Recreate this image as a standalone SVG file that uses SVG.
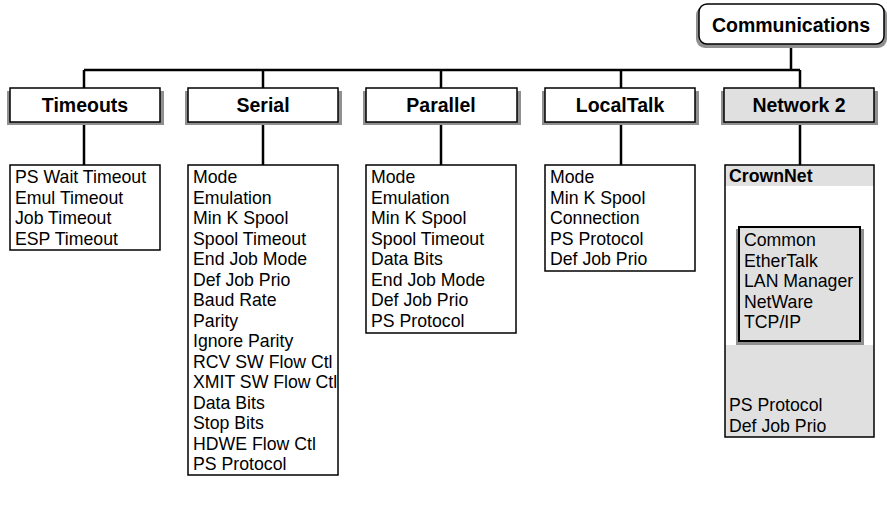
<svg xmlns="http://www.w3.org/2000/svg" width="887" height="507" viewBox="0 0 887 507">
<style>
.shadow{fill:#909090}
.box{fill:#fff;stroke:#000;stroke-width:1.5}
.gbox{fill:#e0e0e0;stroke:#000;stroke-width:1.5}
.list{fill:#fff;stroke:#000;stroke-width:1.5}
.hd{font-family:"Liberation Sans",Arial,sans-serif;font-weight:bold;font-size:19.5px;text-anchor:middle;fill:#000}
.it{font-family:"Liberation Sans",Arial,sans-serif;font-size:17.7px;fill:#000}
.cn{stroke:#000;stroke-width:2.5;fill:none}
</style>
<rect width="887" height="507" fill="#fff"/>
<g id="connectors">
<path class="cn" d="M791,45 V70 M84,70 H800 M84,70 V88 M263,70 V88 M441,70 V88 M621,70 V88 M800,70 V88"/>
<path class="cn" d="M84,122 V165 M263,122 V165 M441,122 V165 M621,122 V165 M800,122 V165 M800,186 V227"/>
</g>
<g id="communications">
<rect class="shadow" x="696" y="6" width="191" height="42" rx="9"/>
<rect class="box" x="699" y="4" width="185" height="40" rx="8"/>
<text class="hd" x="791" y="32" font-size="21.5">Communications</text>
</g>
<g id="timeouts">
<rect class="shadow" x="7" y="91" width="157" height="34"/>
<rect class="box" x="10" y="88" width="150" height="34"/>
<text class="hd" x="85" y="112">Timeouts</text>
</g>
<g id="serial">
<rect class="shadow" x="185" y="91" width="157" height="34"/>
<rect class="box" x="188" y="88" width="150" height="34"/>
<text class="hd" x="263" y="112">Serial</text>
</g>
<g id="parallel">
<rect class="shadow" x="363" y="91" width="158" height="34"/>
<rect class="box" x="366" y="88" width="151" height="34"/>
<text class="hd" x="441" y="112">Parallel</text>
</g>
<g id="localtalk">
<rect class="shadow" x="542" y="91" width="157" height="34"/>
<rect class="box" x="545" y="88" width="150" height="34"/>
<text class="hd" x="620" y="112">LocalTalk</text>
</g>
<g id="network2">
<rect class="shadow" x="721" y="91" width="157" height="34"/>
<rect class="gbox" x="724" y="88" width="150" height="34"/>
<text class="hd" x="799" y="112">Network 2</text>
</g>
<g id="timeouts-list">
<rect class="list" x="10" y="165" width="150" height="85"/>
<text class="it" x="15" y="183">PS Wait Timeout</text>
<text class="it" x="15" y="203.5">Emul Timeout</text>
<text class="it" x="15" y="224">Job Timeout</text>
<text class="it" x="15" y="244.5">ESP Timeout</text>
</g>
<g id="serial-list">
<rect class="list" x="188" y="165" width="150" height="310"/>
<text class="it" x="193" y="183">Mode</text>
<text class="it" x="193" y="203.5">Emulation</text>
<text class="it" x="193" y="224">Min K Spool</text>
<text class="it" x="193" y="244.5">Spool Timeout</text>
<text class="it" x="193" y="265">End Job Mode</text>
<text class="it" x="193" y="285.5">Def Job Prio</text>
<text class="it" x="193" y="306">Baud Rate</text>
<text class="it" x="193" y="326.5">Parity</text>
<text class="it" x="193" y="347">Ignore Parity</text>
<text class="it" x="193" y="367.5">RCV SW Flow Ctl</text>
<text class="it" x="193" y="388">XMIT SW Flow Ctl</text>
<text class="it" x="193" y="408.5">Data Bits</text>
<text class="it" x="193" y="429">Stop Bits</text>
<text class="it" x="193" y="449.5">HDWE Flow Ctl</text>
<text class="it" x="193" y="470">PS Protocol</text>
</g>
<g id="parallel-list">
<rect class="list" x="366" y="165" width="150" height="168"/>
<text class="it" x="371" y="183">Mode</text>
<text class="it" x="371" y="203.5">Emulation</text>
<text class="it" x="371" y="224">Min K Spool</text>
<text class="it" x="371" y="244.5">Spool Timeout</text>
<text class="it" x="371" y="265">Data Bits</text>
<text class="it" x="371" y="285.5">End Job Mode</text>
<text class="it" x="371" y="306">Def Job Prio</text>
<text class="it" x="371" y="326.5">PS Protocol</text>
</g>
<g id="localtalk-list">
<rect class="list" x="545" y="165" width="150" height="106"/>
<text class="it" x="550" y="183">Mode</text>
<text class="it" x="550" y="203.5">Min K Spool</text>
<text class="it" x="550" y="224">Connection</text>
<text class="it" x="550" y="244.5">PS Protocol</text>
<text class="it" x="550" y="265">Def Job Prio</text>
</g>
<g id="network2-panel">
<rect x="725" y="165" width="149" height="272" fill="#fff"/>
<rect x="725" y="165" width="149" height="21" fill="#e0e0e0"/>
<rect x="725" y="345" width="149" height="92" fill="#e0e0e0"/>
<rect x="725" y="165" width="149" height="272" fill="none" stroke="#000" stroke-width="1.5"/>
<text class="it" x="729" y="182" font-weight="bold" font-size="17">CrownNet</text>
<text class="it" x="729" y="411">PS Protocol</text>
<text class="it" x="729" y="431.5">Def Job Prio</text>
</g>
<g id="crownnet-list">
<rect class="shadow" x="736" y="229" width="128" height="116"/>
<rect x="739" y="227" width="121" height="114" fill="#e0e0e0" stroke="#000" stroke-width="2"/>
<text class="it" x="744" y="246">Common</text>
<text class="it" x="744" y="266.5">EtherTalk</text>
<text class="it" x="744" y="287">LAN Manager</text>
<text class="it" x="744" y="307.5">NetWare</text>
<text class="it" x="744" y="328">TCP/IP</text>
</g>
</svg>
